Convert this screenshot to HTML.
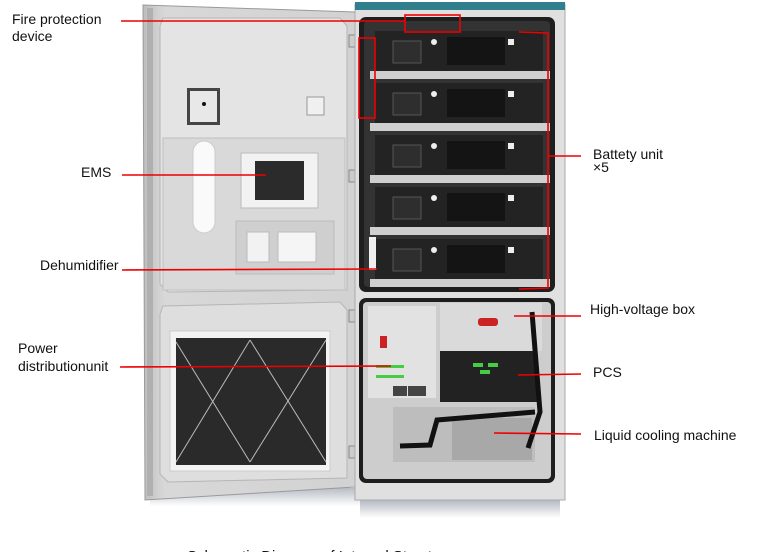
<!DOCTYPE html>
<html><head><meta charset="utf-8"><style>
html,body{margin:0;padding:0;background:#fff;}
svg{display:block;}
text{font-family:"Liberation Sans",Arial,sans-serif;fill:#111;}
</style></head><body>
<svg width="767" height="552" viewBox="0 0 767 552" xmlns="http://www.w3.org/2000/svg">
<defs>
<linearGradient id="sh" x1="0" y1="0" x2="0" y2="1"><stop offset="0" stop-color="#8890a0"/><stop offset="1" stop-color="#fff"/></linearGradient>
<linearGradient id="doorg" x1="0" y1="0" x2="1" y2="0"><stop offset="0" stop-color="#bdbdbd"/><stop offset=".1" stop-color="#d8d8d8"/><stop offset="1" stop-color="#d2d2d2"/></linearGradient>
</defs>
<rect x="150" y="488" width="210" height="18" fill="url(#sh)" opacity=".6"/>
<rect x="360" y="498" width="200" height="20" fill="url(#sh)" opacity=".7"/>
<polygon points="143,5 355,12 355,487 145,500" fill="url(#doorg)" stroke="#9a9a9a"/>
<rect x="147" y="8" width="6" height="488" fill="#b0b0b0"/>
<path d="M163,18 L340,18 L347,26 L347,290 L168,292 L160,284 L160,26 Z" fill="#e4e4e4" stroke="#b5b5b5"/>
<rect x="163" y="138" width="182" height="152" fill="#d9d9d9" stroke="#c0c0c0"/>
<rect x="187" y="88" width="33" height="37" fill="#444"/>
<rect x="190" y="91" width="27" height="31" fill="#e8e8e8"/>
<circle cx="204" cy="104" r="2" fill="#111"/>
<rect x="307" y="97" width="17" height="18" fill="#f0f0f0" stroke="#999"/>
<rect x="193" y="141" width="22" height="92" rx="11" fill="#fafafa" stroke="#ccc"/>
<rect x="241" y="153" width="77" height="55" fill="#f2f2f2" stroke="#bbb"/>
<rect x="255" y="161" width="49" height="39" fill="#2b2b2b"/>
<rect x="236" y="221" width="98" height="53" fill="#cfcfcf" stroke="#bbb"/>
<rect x="247" y="232" width="22" height="30" fill="#f2f2f2" stroke="#bbb"/>
<rect x="278" y="232" width="38" height="30" fill="#f5f5f5" stroke="#bbb"/>
<path d="M163,306 L340,302 L347,310 L347,478 L168,482 L160,474 L160,314 Z" fill="#dedede" stroke="#b5b5b5"/>
<rect x="170" y="331" width="160" height="140" fill="#f3f3f3" stroke="#ccc"/>
<rect x="176" y="338" width="150" height="127" fill="#2a2a2a"/>
<g stroke="#bbb" stroke-width="1">
<line x1="176" y1="342" x2="250" y2="462"/><line x1="250" y1="340" x2="176" y2="462"/>
<line x1="250" y1="340" x2="326" y2="462"/><line x1="326" y1="340" x2="250" y2="462"/>
</g>
<rect x="349" y="35" width="7" height="12" fill="#ccc" stroke="#888"/>
<rect x="349" y="170" width="7" height="12" fill="#ccc" stroke="#888"/>
<rect x="349" y="310" width="7" height="12" fill="#ccc" stroke="#888"/>
<rect x="349" y="446" width="7" height="12" fill="#ccc" stroke="#888"/>
<rect x="355" y="4" width="210" height="496" fill="#e0e0e0" stroke="#aaa"/>
<rect x="355" y="2" width="210" height="8" fill="#2f7f8c"/>
<rect x="359" y="17" width="196" height="275" rx="7" fill="#1e1e1e"/>
<rect x="364" y="21" width="186" height="266" rx="4" fill="#333"/>
<g id="bat">
<rect x="375" y="31" width="168" height="40" fill="#232323"/>
<rect x="393" y="41" width="28" height="22" fill="#2e2e2e" stroke="#555"/>
<circle cx="434" cy="42" r="3" fill="#eee"/>
<rect x="447" y="37" width="58" height="28" fill="#141414"/>
<rect x="508" y="39" width="6" height="6" fill="#eee"/>
<rect x="370" y="71" width="180" height="8" fill="#cfcfcf"/>
</g>
<use href="#bat" y="52"/>
<use href="#bat" y="104"/>
<use href="#bat" y="156"/>
<use href="#bat" y="208"/>
<rect x="369" y="237" width="7" height="33" fill="#eee"/>
<rect x="359" y="298" width="196" height="185" rx="7" fill="#1e1e1e"/>
<rect x="363" y="302" width="188" height="177" rx="4" fill="#cdcdcd"/>
<rect x="368" y="306" width="68" height="92" fill="#e2e2e2"/>
<rect x="440" y="303" width="102" height="48" fill="#dadada"/>
<rect x="440" y="351" width="97" height="51" fill="#222"/>
<rect x="473" y="363" width="10" height="4" fill="#4c4"/><rect x="488" y="363" width="10" height="4" fill="#4c4"/><rect x="480" y="370" width="10" height="4" fill="#4c4"/>
<rect x="376" y="365" width="28" height="3" fill="#4c4"/><rect x="376" y="375" width="28" height="3" fill="#4c4"/>
<rect x="380" y="336" width="7" height="12" fill="#c22"/>
<rect x="478" y="318" width="20" height="8" rx="3" fill="#c22"/>
<rect x="393" y="386" width="14" height="10" fill="#444"/><rect x="408" y="386" width="18" height="10" fill="#444"/>
<rect x="393" y="407" width="142" height="55" fill="#bdbdbd"/>
<rect x="452" y="418" width="80" height="42" fill="#9a9a9a" opacity=".6"/>
<path d="M400,446 L430,445 L437,420 L535,412" fill="none" stroke="#111" stroke-width="5"/>
<path d="M532,312 L540,412 L528,448" fill="none" stroke="#111" stroke-width="5"/>
<g stroke="#e00" stroke-width="1.6" fill="none">
<line x1="121" y1="21" x2="405" y2="21"/>
<rect x="405" y="15" width="55" height="17"/>
<rect x="359" y="38" width="16" height="80"/>
<line x1="122" y1="175" x2="266" y2="175"/>
<line x1="122" y1="270" x2="377" y2="269"/>
<line x1="120" y1="367" x2="391" y2="366"/>
<polyline points="519,32 548,33 548,288 519,289"/>
<line x1="548" y1="156" x2="581" y2="156"/>
<line x1="514" y1="316" x2="581" y2="316"/>
<line x1="518" y1="375" x2="581" y2="374"/>
<line x1="494" y1="433" x2="581" y2="434"/>
</g>
<text x="12" y="24" font-size="14">Fire protection</text>
<text x="12" y="41" font-size="14">device</text>
<text x="81" y="177" font-size="14">EMS</text>
<text x="40" y="270" font-size="14">Dehumidifier</text>
<text x="18" y="353" font-size="14">Power</text>
<text x="18" y="371" font-size="14">distributionunit</text>
<text x="593" y="159" font-size="14">Battety unit</text>
<text x="593" y="172" font-size="14">×5</text>
<text x="590" y="314" font-size="14">High-voltage box</text>
<text x="593" y="377" font-size="14">PCS</text>
<text x="594" y="440" font-size="14">Liquid cooling machine</text>
<text x="187" y="561" font-size="15">Schematic Diagram of Internal Structure</text>
</svg>
</body></html>
